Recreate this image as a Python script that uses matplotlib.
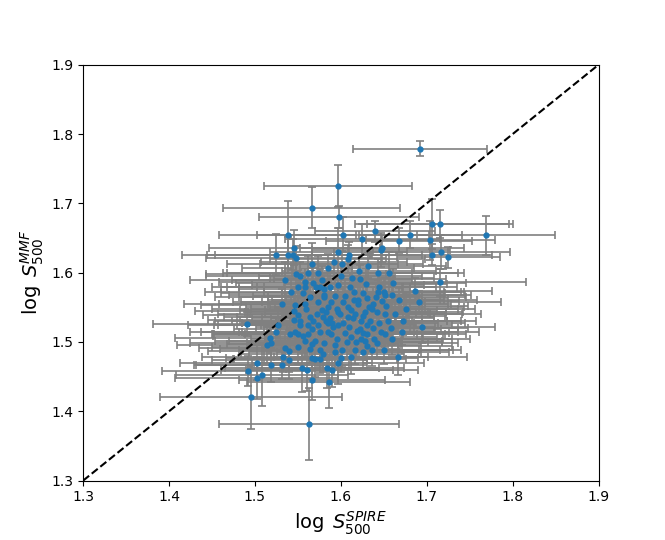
import matplotlib
matplotlib.use("Agg")
import matplotlib.pyplot as plt

# bright sources above the cloud
x_top = [1.692, 1.597, 1.566, 1.598, 1.706, 1.715, 1.769, 1.538, 1.603, 1.640,
         1.625, 1.668, 1.681, 1.704, 1.648, 1.546, 1.525, 1.539, 1.544, 1.548,
         1.597, 1.609, 1.706, 1.717, 1.725]
y_top = [1.779, 1.725, 1.694, 1.680, 1.670, 1.670, 1.654, 1.655, 1.655, 1.660,
         1.648, 1.646, 1.655, 1.647, 1.635, 1.636, 1.626, 1.626, 1.626, 1.621,
         1.630, 1.625, 1.626, 1.630, 1.622]
xe_top = [.078, .086, .103, .093, .090, .085, .080, .080, .100, .070,
          .090, .085, .060, .075, .095, .100, .110, .095, .090, .105,
          .080, .085, .070, .080, .060]
ye_top = [.011, .030, .030, .016, .036, .020, .028, .049, .025, .015,
          .022, .018, .020, .028, .020, .025, .030, .026, .022, .018,
          .035, .020, .015, .025, .015]

# right and left edges of the cloud
x_edge = [1.716, 1.686, 1.691, 1.695, 1.535, 1.542, 1.532, 1.491, 1.527, 1.525,
          1.517, 1.519, 1.514, 1.541, 1.535, 1.540]
y_edge = [1.586, 1.574, 1.558, 1.521, 1.590, 1.572, 1.555, 1.526, 1.524, 1.514,
          1.506, 1.499, 1.495, 1.512, 1.492, 1.487]
xe_edge = [.100, .090, .095, .085, .110, .100, .115, .110, .105, .100,
           .110, .095, .105, .090, .100, .095]
ye_edge = [.020, .018, .016, .022, .025, .020, .022, .018, .025, .020,
           .018, .022, .026, .024, .020, .030]

# dense core
x_core = [1.608, 1.647, 1.567, 1.592, 1.601, 1.621, 1.643, 1.656, 1.553, 1.562,
          1.558, 1.568, 1.578, 1.550, 1.558, 1.571, 1.576, 1.581, 1.587, 1.597,
          1.605, 1.615, 1.626, 1.650, 1.652, 1.564, 1.581, 1.593, 1.620, 1.638,
          1.620, 1.558, 1.547, 1.585, 1.595, 1.608, 1.612, 1.597, 1.628, 1.642,
          1.651, 1.550, 1.564, 1.568, 1.579, 1.587, 1.599, 1.608, 1.614, 1.624,
          1.634, 1.655, 1.552, 1.562, 1.574, 1.585, 1.597, 1.610, 1.622, 1.671,
          1.550, 1.562, 1.576, 1.589, 1.605, 1.612, 1.624, 1.558, 1.570, 1.581,
          1.593, 1.607, 1.618, 1.628, 1.550, 1.564, 1.576, 1.593, 1.601, 1.616,
          1.636, 1.650, 1.667,
          1.545, 1.578, 1.583, 1.645, 1.643, 1.630, 1.648, 1.636, 1.626, 1.630,
          1.647, 1.651, 1.626, 1.631, 1.630]
y_core = [1.620, 1.633, 1.613, 1.615, 1.613, 1.603, 1.600, 1.600, 1.595, 1.599,
          1.587, 1.585, 1.590, 1.580, 1.579, 1.579, 1.580, 1.576, 1.580, 1.582,
          1.567, 1.572, 1.570, 1.572, 1.568, 1.565, 1.565, 1.567, 1.560, 1.555,
          1.555, 1.555, 1.553, 1.550, 1.548, 1.551, 1.546, 1.543, 1.543, 1.543,
          1.541, 1.539, 1.536, 1.531, 1.536, 1.534, 1.541, 1.536, 1.534, 1.531,
          1.531, 1.531, 1.524, 1.524, 1.524, 1.527, 1.524, 1.522, 1.519, 1.515,
          1.512, 1.512, 1.514, 1.512, 1.513, 1.507, 1.505, 1.502, 1.502, 1.498,
          1.495, 1.500, 1.500, 1.502, 1.493, 1.490, 1.488, 1.486, 1.488, 1.488,
          1.488, 1.488, 1.478,
          1.532, 1.546, 1.531, 1.579, 1.572, 1.563, 1.559, 1.547, 1.537, 1.524,
          1.514, 1.511, 1.513, 1.512, 1.494]
xe_core = [.090, .080, .100, .085, .095, .090, .100, .080, .110, .095,
           .100, .090, .105, .100, .090, .110, .095, .100, .085, .100,
           .090, .105, .095, .090, .100, .110, .100, .095, .100, .090,
           .105, .100, .110, .095, .100, .090, .100, .105, .095, .100,
           .090, .110, .100, .095, .100, .090, .105, .100, .095, .100,
           .090, .085, .100, .105, .095, .100, .090, .100, .095, .090,
           .100, .110, .095, .100, .090, .100, .095, .105, .100, .090,
           .100, .095, .100, .090, .100, .105, .095, .100, .090, .100,
           .095, .090, .080,
           .100, .095, .100, .090, .100, .095, .090, .100, .095, .100,
           .090, .095, .100, .090, .100]
ye_core = [.020, .025, .030, .020, .018, .022, .020, .030, .020, .025,
           .018, .022, .020, .024, .020, .018, .025, .020, .022, .018,
           .024, .020, .022, .020, .025, .020, .018, .022, .020, .025,
           .018, .022, .020, .024, .020, .022, .018, .025, .020, .022,
           .020, .024, .020, .018, .022, .020, .025, .020, .022, .018,
           .020, .024, .020, .022, .020, .018, .025, .020, .022, .020,
           .024, .020, .022, .020, .018, .025, .020, .022, .020, .024,
           .020, .022, .020, .018, .025, .020, .022, .020, .024, .020,
           .022, .020, .025,
           .020, .022, .020, .020, .018, .022, .020, .024, .020, .022,
           .020, .018, .022, .020, .024]

# overlapping sources hidden inside the core
x_fill = [1.548, 1.556, 1.560, 1.553, 1.566, 1.572, 1.574, 1.583, 1.589, 1.591,
          1.596, 1.603, 1.603, 1.611, 1.617, 1.619, 1.622, 1.629, 1.633, 1.637,
          1.639, 1.641, 1.645, 1.653, 1.658, 1.661, 1.663, 1.668, 1.672, 1.676,
          1.573, 1.585, 1.613, 1.632, 1.545, 1.556, 1.567, 1.579, 1.597, 1.612,
          1.626, 1.642, 1.660, 1.547, 1.585, 1.600, 1.590, 1.615, 1.580, 1.660]
y_fill = [1.598, 1.571, 1.547, 1.530, 1.519, 1.541, 1.558, 1.543, 1.558, 1.521,
          1.505, 1.528, 1.557, 1.580, 1.541, 1.516, 1.591, 1.583, 1.550, 1.520,
          1.505, 1.565, 1.528, 1.552, 1.520, 1.585, 1.540, 1.560, 1.530, 1.548,
          1.600, 1.607, 1.592, 1.610, 1.545, 1.508, 1.497, 1.482, 1.470, 1.478,
          1.485, 1.498, 1.505, 1.515, 1.515, 1.595, 1.527, 1.560, 1.568, 1.568]
xe_fill = [.105, .095, .110, .100, .090, .115, .100, .095, .105, .090,
           .100, .110, .095, .100, .105, .090, .100, .095, .110, .100,
           .090, .105, .100, .095, .090, .085, .100, .090, .085, .080,
           .110, .100, .095, .090, .115, .105, .100, .095, .100, .090,
           .100, .095, .090, .110, .100, .095, .105, .100, .110, .085]
ye_fill = [.022, .020, .024, .018, .022, .020, .026, .020, .022, .018,
           .024, .020, .022, .020, .018, .024, .020, .022, .020, .026,
           .020, .018, .022, .020, .024, .020, .022, .018, .020, .022,
           .024, .020, .022, .018, .020, .024, .022, .026, .030, .024,
           .022, .020, .024, .020, .022, .018, .020, .022, .020, .024]

# faint sources below the cloud
x_low = [1.566, 1.570, 1.576, 1.555, 1.561, 1.566, 1.584, 1.590, 1.586, 1.600,
         1.563, 1.503, 1.492, 1.502, 1.508, 1.519, 1.531, 1.533, 1.540, 1.495]
y_low = [1.477, 1.475, 1.475, 1.463, 1.459, 1.445, 1.463, 1.460, 1.443, 1.477,
         1.382, 1.470, 1.458, 1.448, 1.453, 1.467, 1.467, 1.479, 1.474, 1.420]
xe_low = [.100, .095, .100, .090, .100, .085, .090, .100, .095, .090,
          .105, .090, .100, .095, .100, .090, .100, .095, .090, .106]
ye_low = [.030, .025, .020, .035, .030, .028, .030, .025, .038, .020,
          .052, .025, .022, .030, .045, .025, .020, .022, .028, .046]

x_spire = x_top + x_edge + x_core + x_fill + x_low
y_mmf = y_top + y_edge + y_core + y_fill + y_low
x_err = xe_top + xe_edge + xe_core + xe_fill + xe_low
y_err = ye_top + ye_edge + ye_core + ye_fill + ye_low

ticks = [1.3, 1.4, 1.5, 1.6, 1.7, 1.8, 1.9]

fig, ax = plt.subplots(figsize=(6.65, 5.4), dpi=100)

ax.errorbar(x_spire, y_mmf, xerr=x_err, yerr=y_err, fmt="none",
            ecolor="gray", elinewidth=1.2, capsize=3, capthick=1.2, zorder=1)
ax.axline((1.3, 1.3), slope=1, color="k", ls="--", lw=1.5, zorder=2)
ax.plot(x_spire, y_mmf, "o", color="tab:blue", ms=3.5, zorder=3)

ax.set_xlim(1.3, 1.9)
ax.set_ylim(1.3, 1.9)
ax.set_xticks(ticks)
ax.set_yticks(ticks)
ax.set_xlabel(r"$\log\;S_{500}^{SPIRE}$", fontsize=14)
ax.set_ylabel(r"$\log\;S_{500}^{MMF}$", fontsize=14)

fig.savefig("out.png")
